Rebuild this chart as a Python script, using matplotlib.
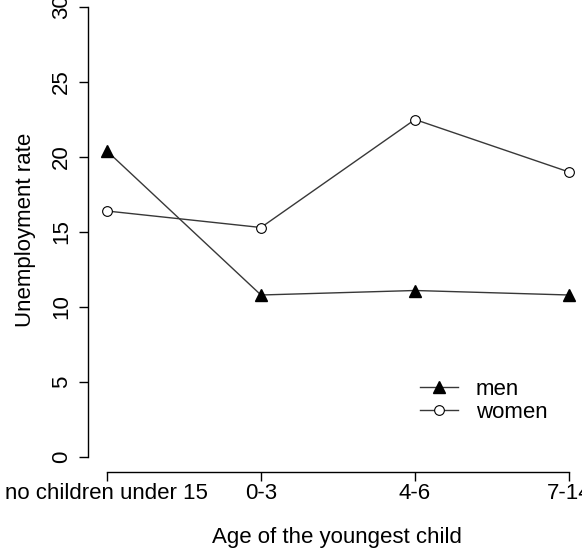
import matplotlib
matplotlib.use("Agg")
import matplotlib.pyplot as plt

# age of youngest child categories and unemployment rates (%)
categories = ["no children under 15", "0-3", "4-6", "7-14"]
men = [20.4, 10.8, 11.1, 10.8]
women = [16.4, 15.3, 22.5, 19.0]
yticks = [0, 5, 10, 15, 20, 25, 30]

plt.rcParams['font.family'] = ['Liberation Sans', 'DejaVu Sans']
fs = 16

W, H = 582, 551
fig = plt.figure(figsize=(W / 100, H / 100), dpi=100)
# plot region in pixels (R style, extends past the figure edges)
left_px, right_px = 88.3, 587.5
bottom_px, top_px = 472, -11
ax = fig.add_axes([left_px / W, 1 - bottom_px / H,
                   (right_px - left_px) / W, (bottom_px - top_px) / H])
ax.patch.set_alpha(0)

x = list(range(1, len(categories) + 1))
line_kw = dict(color="#383838", lw=1.0, clip_on=False)
ax.plot(x, men, marker="^", ms=8.5, mfc="black", mec="black", label="men", **line_kw)
ax.plot(x, women, marker="o", ms=7, mfc="white", mec="black", mew=0.8, label="women", **line_kw)

ax.set_xlim(0.879, 4.12)
ax.set_ylim(-1.0, 31.2)

for s in ["top", "right"]:
    ax.spines[s].set_visible(False)
ax.spines["left"].set_bounds(0, 30)
ax.spines["bottom"].set_bounds(1, 4)
for s in ["left", "bottom"]:
    ax.spines[s].set_linewidth(1.0)

ax.set_xticks(x)
ax.set_xticklabels(categories, fontsize=fs)
ax.set_yticks(yticks)
ax.set_yticklabels([str(v) for v in yticks], fontsize=fs, rotation=90, va="center")
ax.tick_params(axis="both", direction="out", length=6.5, width=1.0)
ax.tick_params(axis="x", pad=1.5)
ax.tick_params(axis="y", pad=5)

ax.set_xlabel("Age of the youngest child", fontsize=fs)
ax.xaxis.set_label_coords((337 - left_px) / (right_px - left_px), (bottom_px - 527) / (bottom_px - top_px))
ax.xaxis.label.set_va("top")
ax.set_ylabel("Unemployment rate", fontsize=fs)
ax.yaxis.set_label_coords((15 - left_px) / (right_px - left_px), (bottom_px - 230) / (bottom_px - top_px))
ax.yaxis.label.set_va("top")

ax.legend(loc="upper left", bbox_to_anchor=(420 / W, 1 - 379 / H),
          bbox_transform=fig.transFigure, frameon=False, fontsize=fs,
          borderpad=0, borderaxespad=0, handlelength=1.7, handletextpad=0.8,
          labelspacing=0.1)

fig.savefig("out.png", dpi=100)
